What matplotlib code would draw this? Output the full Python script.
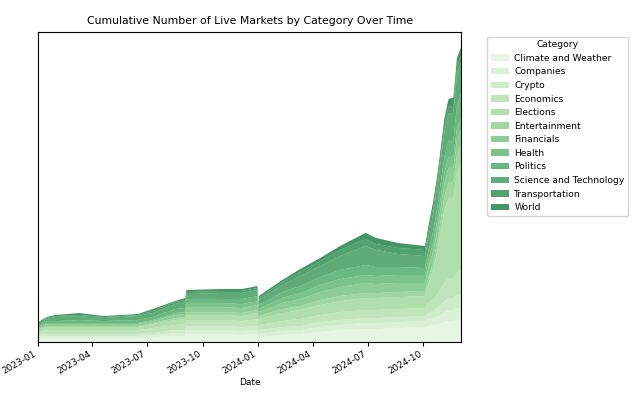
import matplotlib
matplotlib.use("Agg")
import matplotlib.pyplot as plt
import matplotlib.dates as mdates
import numpy as np
import pandas as pd

# dates (jumps get two close dates)
dates = pd.to_datetime([
    "2023-01-01", "2023-01-15", "2023-01-28", "2023-03-10", "2023-04-20",
    "2023-06-15", "2023-07-10", "2023-08-16", "2023-09-02", "2023-09-04",
    "2023-11-01", "2023-12-05", "2023-12-31", "2024-01-01", "2024-01-02",
    "2024-02-10", "2024-03-11", "2024-04-13", "2024-05-16", "2024-06-27",
    "2024-07-15", "2024-08-20", "2024-10-04", "2024-10-09", "2024-10-18",
    "2024-10-26", "2024-11-05", "2024-11-12", "2024-11-20", "2024-11-26",
    "2024-12-03",
])

categories = ["Climate and Weather", "Companies", "Crypto", "Economics",
              "Elections", "Entertainment", "Financials", "Health",
              "Politics", "Science and Technology", "Transportation", "World"]

climate = [3, 4, 4, 4, 4, 4, 5, 6, 6, 8, 8, 7, 8, 4, 5, 7, 8, 10, 12, 13, 13, 14, 15, 16, 17, 18, 20, 21, 21, 22, 22]
companies = [2, 2, 2, 2, 2, 2, 2, 3, 3, 4, 4, 4, 4, 2, 3, 4, 4, 5, 5, 6, 6, 6, 6, 7, 7, 8, 10, 11, 11, 12, 12]
crypto = [2, 2, 2, 2, 2, 2, 2, 3, 3, 4, 4, 4, 4, 3, 4, 4, 4, 5, 5, 5, 5, 5, 5, 6, 7, 9, 11, 12, 12, 13, 14]
economics = [3, 4, 4, 4, 4, 4, 5, 5, 6, 6, 6, 6, 7, 4, 5, 6, 7, 7, 8, 8, 8, 8, 8, 10, 12, 14, 18, 20, 20, 22, 24]
elections = [2, 3, 3, 3, 3, 3, 4, 5, 5, 5, 5, 5, 6, 5, 6, 8, 9, 10, 11, 12, 12, 12, 12, 18, 30, 47, 72, 80, 80, 100, 105]
entertainment = [1, 1, 1, 1, 1, 1, 1, 2, 2, 3, 3, 3, 3, 2, 3, 4, 4, 5, 5, 5, 5, 5, 5, 6, 8, 10, 14, 16, 16, 18, 20]
financials = [1, 2, 2, 2, 2, 2, 2, 3, 3, 5, 5, 5, 5, 3, 4, 6, 7, 8, 9, 10, 9, 9, 8, 10, 11, 12, 13, 14, 14, 15, 15]
health = [1, 1, 1, 1, 1, 1, 1, 2, 2, 4, 4, 4, 4, 2, 3, 5, 6, 7, 8, 8, 8, 8, 8, 8, 9, 10, 11, 11, 11, 12, 12]
politics = [1, 2, 2, 3, 2, 3, 3, 4, 4, 4, 4, 5, 5, 3, 4, 6, 7, 8, 9, 10, 9, 8, 7, 9, 11, 13, 16, 16, 16, 22, 25]
science = [2, 2, 4, 4, 3, 4, 4, 5, 6, 5, 6, 6, 6, 4, 5, 7, 10, 11, 14, 19, 17, 13, 12, 13, 18, 21, 25, 27, 28, 32, 31]
transportation = [1, 1, 1, 1, 1, 1, 2, 2, 2, 2, 2, 2, 2, 1, 2, 3, 4, 5, 6, 7, 6, 6, 6, 6, 6, 6, 6, 7, 7, 7, 7]
world = [1, 1, 1, 2, 1, 1, 2, 1, 2, 2, 2, 2, 2, 2, 2, 2, 3, 3, 4, 6, 6, 5, 4, 5, 6, 6, 7, 8, 8, 9, 8]

series = [climate, companies, crypto, economics, elections, entertainment,
          financials, health, politics, science, transportation, world]

colors = plt.cm.Greens(np.linspace(0.15, 0.85, len(categories)))

fig, ax = plt.subplots(figsize=(6.37, 3.95), dpi=100)
fig.subplots_adjust(left=0.06, right=0.724, bottom=0.134, top=0.919)

ax.stackplot(dates, *series, labels=categories, colors=colors, alpha=0.75)

ax.set_xlim(dates[0], dates[-1])
top = max(sum(v) for v in zip(*series))
ax.set_ylim(0, top * 1.05)
ax.set_yticks([])

ax.xaxis.set_major_locator(mdates.MonthLocator(bymonth=[1, 4, 7, 10]))
ax.xaxis.set_major_formatter(mdates.DateFormatter("%Y-%m"))
plt.setp(ax.get_xticklabels(), rotation=30, ha="right", fontsize=6.5)
ax.tick_params(axis="x", length=3, pad=2)

ax.set_title("Cumulative Number of Live Markets by Category Over Time", fontsize=7.8)
ax.set_xlabel("Date", fontsize=6.5, labelpad=2)

ax.legend(title="Category", loc="upper left", bbox_to_anchor=(1.05, 1),
          fontsize=6.6, title_fontsize=6.6, handletextpad=0.6)

plt.savefig("out.png", dpi=100)
